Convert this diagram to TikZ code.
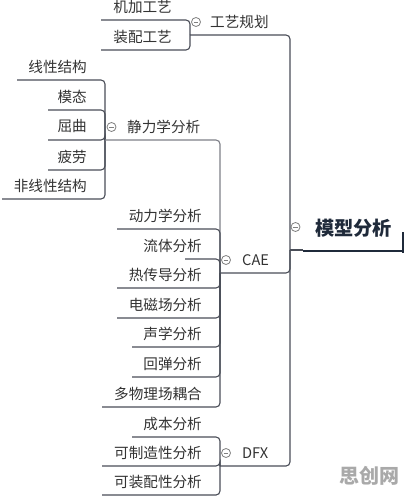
\documentclass[tikz,border=0pt]{standalone}
\usepackage{fontspec}
\setmainfont{Noto Sans CJK SC}
\definecolor{lineC}{HTML}{4A4E58}
\definecolor{lineG}{HTML}{7E8088}
\definecolor{txtC}{HTML}{333333}
\definecolor{rootC}{HTML}{1F2A3A}
\definecolor{btnC}{HTML}{808080}
\definecolor{wmC}{HTML}{A9A9A9}
\tikzset{
  leaf/.style={inner sep=0pt,text=txtC,font=\fontsize{14.6}{15}\selectfont},
  topic/.style={inner sep=0pt,text=txtC,font=\fontsize{14.6}{15}\selectfont,anchor=west},
  conn/.style={draw=lineC,line width=1.1pt,rounded corners=4pt},
  btn/.style={circle,draw=btnC,line width=0.8pt,minimum size=9pt,inner sep=0pt,fill=white,
    path picture={\draw[btnC,line width=0.8pt] ([xshift=-2.4pt]path picture bounding box.center) -- ([xshift=2.4pt]path picture bounding box.center);}}
}
\newcommand\leafitem[5]{%
  \node[leaf,anchor=east] (#1) at (#3-18,#4-13.5) {#2};
  \coordinate (#1u) at (#5,#4);
}
\begin{document}
\begin{tikzpicture}[x=1pt,y=-1pt]
\fill[white] (0,0) rectangle (405,497);
\useasboundingbox (0,0) rectangle (405,497);

% root
\coordinate (mainA) at (290,250);
\coordinate (rootL) at (303,251);
\coordinate (rootR) at (403,251);
\coordinate (tickT) at (403,232);
\coordinate (tickB) at (403,253);
\node[btn] (rootbtn) at (295.5,227) {};
\node[inner sep=0pt,anchor=west,text=rootC,font=\fontsize{19.2}{20}\selectfont\bfseries] (root) at (315,228) {模型分析};
\draw[lineC,line width=1.1pt] (mainA) -- (303,250);
\draw[rootC,line width=2.6pt] (rootL) -- (rootR);
\draw[rootC,line width=1.2pt] (tickT) -- (tickB);

% level-1 topic attach points
\coordinate (gyA) at (190,35);
\coordinate (caeA) at (220,273);
\coordinate (dfxA) at (220,466);
\coordinate (jlA) at (105,140);

% topics
\node[btn] (gybtn) at (196,22) {};
\node[topic] (gy) at (210,22) {工艺规划};
\node[btn] (caebtn) at (226,260) {};
\node[topic] (cae) at (242,260) {CAE};
\node[btn] (dfxbtn) at (226,453) {};
\node[topic] (dfx) at (242,453) {DFX};
\node[btn] (jlbtn) at (111.5,127) {};
\node[topic] (jl) at (127,127) {静力学分析};

% main connectors
\draw[conn] (mainA) |- (gyA);
\draw[conn] (mainA) |- (caeA);
\draw[conn] (mainA) |- (dfxA);

% 工艺规划 children
\leafitem{m1}{机加工艺}{190}{20}{101}
\leafitem{m2}{装配工艺}{190}{50}{101}
\draw[conn] (gyA) |- (m1u);
\draw[conn] (gyA) |- (m2u);

% 静力学分析 children
\leafitem{s1}{线性结构}{105}{80}{17}
\leafitem{s2}{模态}{105}{110}{48}
\leafitem{s3}{屈曲}{105}{140}{48}
\leafitem{s4}{疲劳}{105}{170}{48}
\leafitem{s5}{非线性结构}{105}{199}{2}
\foreach \c in {s1u,s2u,s3u,s4u,s5u} \draw[conn] (jlA) |- (\c);

% CAE children
\leafitem{c2}{动力学分析}{220}{229}{117}
\leafitem{c3}{流体分析}{220}{259}{185}
\leafitem{c4}{热传导分析}{220}{288}{117}
\leafitem{c5}{电磁场分析}{220}{318}{117}
\leafitem{c6}{声学分析}{220}{347}{132}
\leafitem{c7}{回弹分析}{220}{377}{132}
\leafitem{c8}{多物理场耦合}{220}{407}{102}
\draw[conn,draw=lineG] (caeA) |- (jlA);
\foreach \c in {c2u,c3u,c4u,c5u,c6u,c7u,c8u} \draw[conn] (caeA) |- (\c);

% DFX children
\leafitem{d1}{成本分析}{220}{437}{132}
\leafitem{d2}{可制造性分析}{220}{466}{102}
\leafitem{d3}{可装配性分析}{220}{495}{102}
\foreach \c in {d1u,d2u,d3u} \draw[conn] (dfxA) |- (\c);

% watermark
\node[inner sep=0pt,text=wmC,font=\fontsize{20}{20}\selectfont\bfseries] (wm) at (369,476) {思创网};
\end{tikzpicture}
\end{document}
